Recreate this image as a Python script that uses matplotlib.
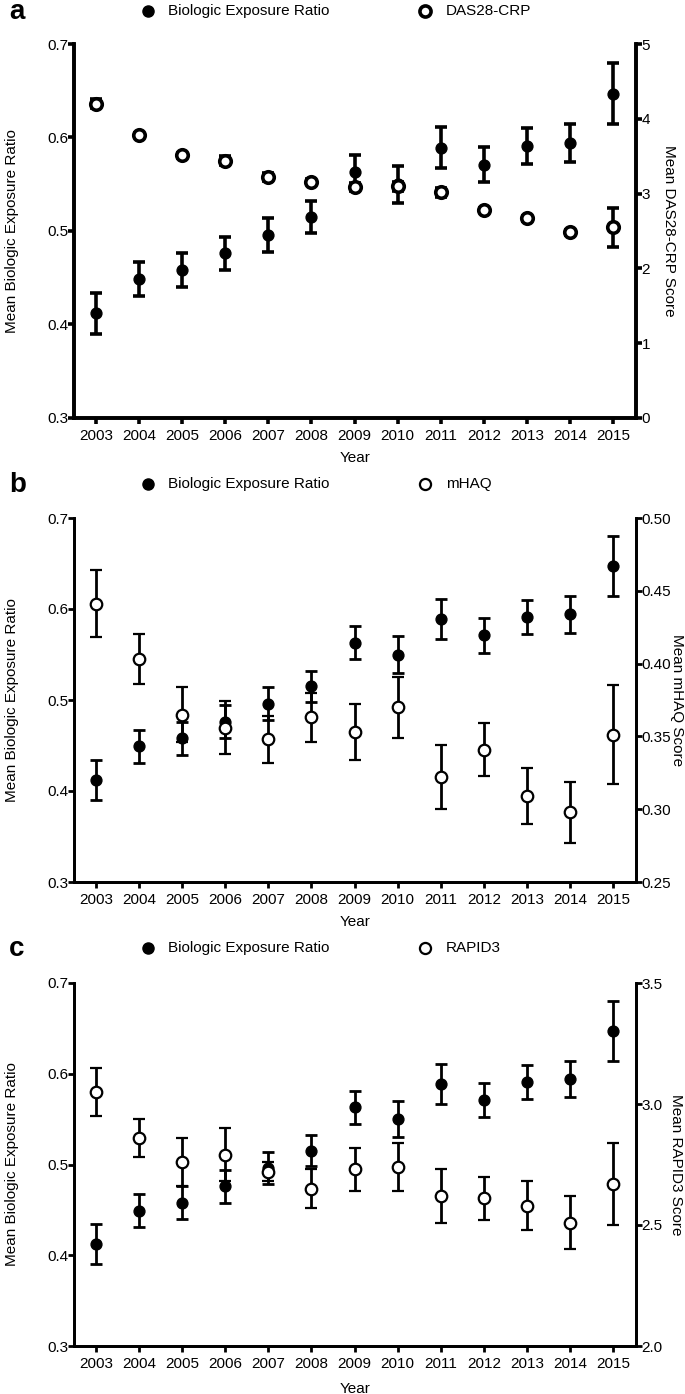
import matplotlib
matplotlib.use("Agg")
import matplotlib.pyplot as plt
import numpy as np

plt.rcParams['font.family'] = ['Liberation Sans', 'DejaVu Sans']

years = np.arange(2003, 2016)

# biologic exposure ratio (same series in all three panels)
ber = [0.412, 0.449, 0.458, 0.476, 0.496, 0.515, 0.563, 0.550, 0.589, 0.571, 0.591, 0.594, 0.647]
ber_err = [0.022, 0.018, 0.018, 0.018, 0.018, 0.017, 0.018, 0.020, 0.022, 0.019, 0.019, 0.020, 0.033]

das28 = [4.20, 3.78, 3.51, 3.44, 3.22, 3.16, 3.09, 3.10, 3.02, 2.78, 2.67, 2.48, 2.55]
das28_err = [0.06, 0.03, 0.03, 0.06, 0.05, 0.03, 0.05, 0.06, 0.06, 0.03, 0.03, 0.03, 0.26]

mhaq = [0.441, 0.403, 0.365, 0.356, 0.348, 0.363, 0.353, 0.370, 0.322, 0.341, 0.309, 0.298, 0.351]
mhaq_err = [0.023, 0.017, 0.019, 0.018, 0.016, 0.017, 0.019, 0.021, 0.022, 0.018, 0.019, 0.021, 0.034]

rapid3 = [3.05, 2.86, 2.76, 2.79, 2.72, 2.65, 2.73, 2.74, 2.62, 2.61, 2.58, 2.51, 2.67]
rapid3_err = [0.10, 0.08, 0.10, 0.11, 0.04, 0.08, 0.09, 0.10, 0.11, 0.09, 0.10, 0.11, 0.17]

panels = [
    # letter, name, values, errors, right label, right ticks, right tick labels
    ("a", "DAS28-CRP", das28, das28_err, "Mean DAS28-CRP Score",
     [0, 1, 2, 3, 4, 5], ["0", "1", "2", "3", "4", "5"]),
    ("b", "mHAQ", mhaq, mhaq_err, "Mean mHAQ Score",
     [0.25, 0.30, 0.35, 0.40, 0.45, 0.50], ["0.25", "0.30", "0.35", "0.40", "0.45", "0.50"]),
    ("c", "RAPID3", rapid3, rapid3_err, "Mean RAPID3 Score",
     [2.0, 2.5, 3.0, 3.5], ["2.0", "2.5", "3.0", "3.5"]),
]

W, H = 685, 1394
fig = plt.figure(figsize=(W / 100, H / 100), dpi=100)

# axes boxes in pixels: (top, bottom), legend row y, xlabel pad, right label x
boxes = [(44, 418), (518, 882), (983, 1346)]
legend_y = [11, 484, 948]
xlabel_pads = [6, 6, 8]
rlabel_x = [669, 677, 676]
left_px, right_px = 74, 636
lw_list = [2.6, 2.0, 2.0]
open_lw = [2.6, 1.6, 1.6]
axw = right_px - left_px

for i, (letter, name, vals, errs, rlabel, rticks, rtlabels) in enumerate(panels):
    top, bot = boxes[i]
    lw, olw = lw_list[i], open_lw[i]
    ax = fig.add_axes([left_px / W, 1 - bot / H, axw / W, (bot - top) / H])
    ax2 = ax.twinx()

    ax.errorbar(years, ber, yerr=ber_err, fmt='o', color='black', ms=7.8,
                elinewidth=lw, capsize=4, capthick=lw, zorder=3)
    ax2.errorbar(years, vals, yerr=errs, fmt='o', color='black', mfc='white',
                 mec='black', mew=olw, ms=8.3, elinewidth=lw, capsize=4,
                 capthick=lw, zorder=4)

    ax.set_xlim(2002.49, 2015.53)
    ax.set_ylim(0.3, 0.7)
    ax.set_yticks([0.3, 0.4, 0.5, 0.6, 0.7])
    ax.set_yticklabels(["0.3", "0.4", "0.5", "0.6", "0.7"])
    ax.set_xticks(years)
    ax.set_xticklabels([str(y) for y in years])
    ax2.set_ylim(rticks[0], rticks[-1])
    ax2.set_yticks(rticks)
    ax2.set_yticklabels(rtlabels)

    for a in (ax, ax2):
        a.spines['top'].set_visible(False)
        for s in ('left', 'right', 'bottom'):
            a.spines[s].set_linewidth(lw)
        a.tick_params(direction='out', length=4, width=lw, labelsize=11, pad=1)
    ax.tick_params(axis='x', pad=4)
    ax.tick_params(axis='y', pad=0)
    ax2.tick_params(axis='y', pad=0)

    ax.set_xlabel("Year", fontsize=11, labelpad=xlabel_pads[i])
    ax.set_ylabel("Mean Biologic Exposure Ratio", fontsize=11, va='center')
    ax.yaxis.set_label_coords((12 - left_px) / axw, 0.5)
    ax2.set_ylabel(rlabel, fontsize=11, rotation=270, va='center')
    ax2.yaxis.set_label_coords((rlabel_x[i] - left_px) / axw, 0.5)

    # legend row above the panel
    ly = 1 - legend_y[i] / H
    fig.text(9 / W, 1 - (legend_y[i] + 8) / H, letter, fontsize=20,
             fontweight='bold', va='baseline', ha='left')
    fig.lines.append(plt.Line2D([148 / W], [ly], marker='o', color='black', ms=8,
                                transform=fig.transFigure, figure=fig))
    fig.text(168 / W, ly, "Biologic Exposure Ratio", fontsize=11, va='center')
    fig.lines.append(plt.Line2D([425 / W], [ly], marker='o', mfc='white', mec='black',
                                mew=olw, ms=8, transform=fig.transFigure, figure=fig))
    fig.text(446 / W, ly, name, fontsize=11, va='center')

fig.savefig("out.png", dpi=100)
